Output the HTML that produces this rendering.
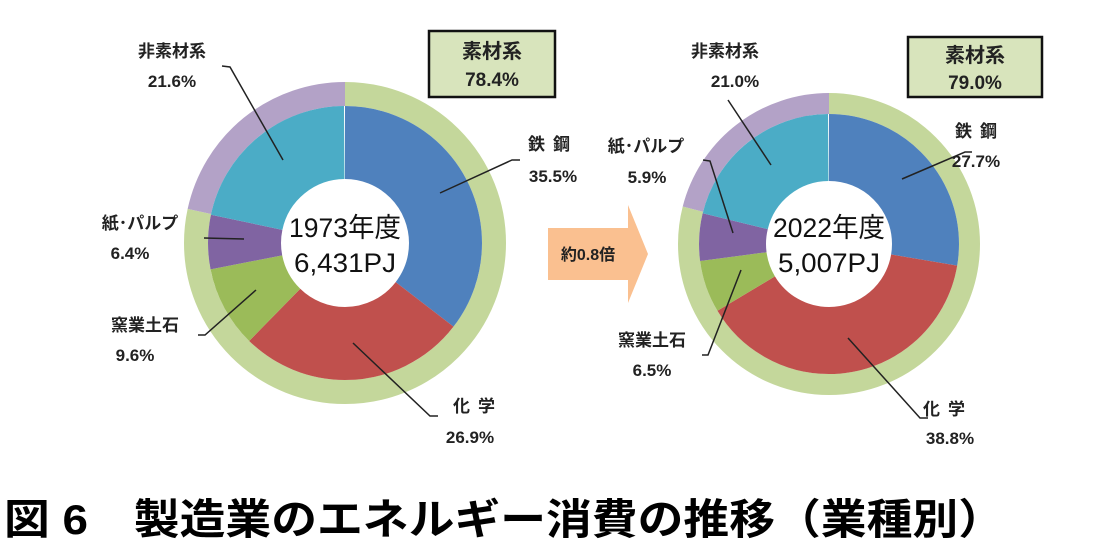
<!DOCTYPE html>
<html><head><meta charset="utf-8"><style>
html,body{margin:0;padding:0;background:#fff;}
svg{display:block;font-family:"Liberation Sans","Noto Sans CJK JP",sans-serif;}
.l{font-size:17px;font-weight:bold;fill:#222;text-anchor:middle;}
.c{font-size:27px;fill:#111;text-anchor:middle;}
.ld{fill:none;stroke:#222;stroke-width:1.5;}
</style></head><body>
<svg width="1106" height="560" viewBox="0 0 1106 560">
<!-- LEFT DONUT -->
<g transform="rotate(-90 345 243)" fill="none">
<circle cx="345" cy="243" r="149" stroke="#c4d79b" stroke-width="24" pathLength="100" stroke-dasharray="78.4 100" stroke-dashoffset="0"/>
<circle cx="345" cy="243" r="149" stroke="#b3a2c7" stroke-width="24" pathLength="100" stroke-dasharray="21.6 100" stroke-dashoffset="-78.4"/>
<circle cx="345" cy="243" r="100.5" stroke="#4f81bd" stroke-width="73" pathLength="100" stroke-dasharray="35.5 100" stroke-dashoffset="0"/>
<circle cx="345" cy="243" r="100.5" stroke="#c0504d" stroke-width="73" pathLength="100" stroke-dasharray="26.9 100" stroke-dashoffset="-35.5"/>
<circle cx="345" cy="243" r="100.5" stroke="#9bbb59" stroke-width="73" pathLength="100" stroke-dasharray="9.6 100" stroke-dashoffset="-62.4"/>
<circle cx="345" cy="243" r="100.5" stroke="#8064a2" stroke-width="73" pathLength="100" stroke-dasharray="6.4 100" stroke-dashoffset="-72"/>
<circle cx="345" cy="243" r="100.5" stroke="#4bacc6" stroke-width="73" pathLength="100" stroke-dasharray="21.6 100" stroke-dashoffset="-78.4"/>
</g>
<text class="c" x="345" y="237" textLength="112" lengthAdjust="spacingAndGlyphs">1973年度</text>
<text class="c" x="345" y="272" textLength="102" lengthAdjust="spacingAndGlyphs">6,431PJ</text>

<rect x="429" y="31" width="126" height="66" fill="#d8e4bc" stroke="#111" stroke-width="2.5"/>
<text class="l" x="492" y="58" style="font-size:20px">素材系</text>
<text class="l" x="492" y="86" style="font-size:19px">78.4%</text>

<text class="l" x="172" y="57">非素材系</text>
<text class="l" x="172" y="87">21.6%</text>
<polyline class="ld" points="222,66 230,67 283,160"/>
<text class="l" x="553" y="150" style="letter-spacing:8px">鉄鋼</text>
<text class="l" x="553" y="182">35.5%</text>
<polyline class="ld" points="440,193 512,160 520,160"/>
<text class="l" x="140" y="229">紙･パルプ</text>
<text class="l" x="130" y="259">6.4%</text>
<polyline class="ld" points="204,238 244,239"/>
<text class="l" x="145" y="331">窯業土石</text>
<text class="l" x="135" y="361">9.6%</text>
<polyline class="ld" points="256,290 205,335 198,335"/>
<text class="l" x="478" y="412" style="letter-spacing:8px">化学</text>
<text class="l" x="470" y="443">26.9%</text>
<polyline class="ld" points="353,343 430,416 438,416"/>

<!-- ARROW -->
<polygon points="548,228 628,228 628,205 648,254 628,303 628,280 548,280" fill="#fac090"/>
<text class="l" x="588" y="260" style="font-size:16px">約0.8倍</text>

<!-- RIGHT DONUT -->
<g transform="rotate(-90 829 244)" fill="none">
<circle cx="829" cy="244" r="140.5" stroke="#c4d79b" stroke-width="21" pathLength="100" stroke-dasharray="79 100" stroke-dashoffset="0"/>
<circle cx="829" cy="244" r="140.5" stroke="#b3a2c7" stroke-width="21" pathLength="100" stroke-dasharray="21 100" stroke-dashoffset="-79"/>
<circle cx="829" cy="244" r="96.5" stroke="#4f81bd" stroke-width="67" pathLength="100" stroke-dasharray="27.7 100" stroke-dashoffset="0"/>
<circle cx="829" cy="244" r="96.5" stroke="#c0504d" stroke-width="67" pathLength="100" stroke-dasharray="38.8 100" stroke-dashoffset="-27.7"/>
<circle cx="829" cy="244" r="96.5" stroke="#9bbb59" stroke-width="67" pathLength="100" stroke-dasharray="6.5 100" stroke-dashoffset="-66.5"/>
<circle cx="829" cy="244" r="96.5" stroke="#8064a2" stroke-width="67" pathLength="100" stroke-dasharray="5.9 100" stroke-dashoffset="-73"/>
<circle cx="829" cy="244" r="96.5" stroke="#4bacc6" stroke-width="67" pathLength="100" stroke-dasharray="21.1 100" stroke-dashoffset="-78.9"/>
</g>
<text class="c" x="829" y="237" textLength="112" lengthAdjust="spacingAndGlyphs">2022年度</text>
<text class="c" x="829" y="272" textLength="102" lengthAdjust="spacingAndGlyphs">5,007PJ</text>

<rect x="908" y="37" width="134" height="60" fill="#d8e4bc" stroke="#111" stroke-width="2.5"/>
<text class="l" x="975" y="62" style="font-size:20px">素材系</text>
<text class="l" x="975" y="89" style="font-size:19px">79.0%</text>

<text class="l" x="725" y="57">非素材系</text>
<text class="l" x="735" y="87">21.0%</text>
<polyline class="ld" points="728,100 771,165"/>
<text class="l" x="980" y="137" style="letter-spacing:8px">鉄鋼</text>
<text class="l" x="976" y="167">27.7%</text>
<polyline class="ld" points="902,179 965,152 972,152"/>
<text class="l" x="646" y="152">紙･パルプ</text>
<text class="l" x="647" y="183">5.9%</text>
<polyline class="ld" points="703,160 710,161 733,233"/>
<text class="l" x="652" y="346">窯業土石</text>
<text class="l" x="652" y="376">6.5%</text>
<polyline class="ld" points="741,270 708,355 702,355"/>
<text class="l" x="948" y="415" style="letter-spacing:8px">化学</text>
<text class="l" x="950" y="444">38.8%</text>
<polyline class="ld" points="848,338 920,418 928,418"/>

<!-- TITLE -->
<text x="4" y="534" style="font-size:42px;font-weight:bold;fill:#000" textLength="1000" lengthAdjust="spacingAndGlyphs">図 6　製造業のエネルギー消費の推移（業種別）</text>
</svg>
</body></html>
